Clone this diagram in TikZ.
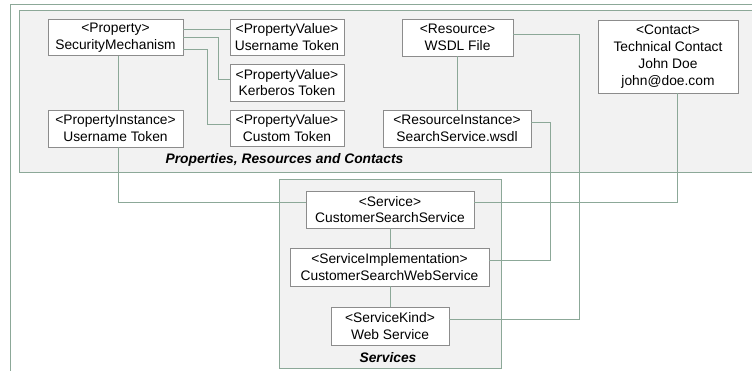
\documentclass[tikz,border=0pt]{standalone}
\usepackage{fontspec}
\setmainfont{Liberation Sans}
\definecolor{conn}{HTML}{8CA898}
\definecolor{panelfill}{HTML}{F2F2F2}
\definecolor{boxline}{HTML}{8C8C8C}
\begin{document}
\begin{tikzpicture}[x=1pt,y=-1pt,
  box/.style={draw=boxline,fill=white,line width=0.9pt,inner sep=0pt,align=center,
    font=\fontsize{13.8}{16.8}\selectfont},
  panel/.style={draw=conn,fill=panelfill,line width=0.9pt},
  link/.style={draw=conn,line width=0.9pt},
  plabel/.style={font=\fontsize{13.8}{16.8}\selectfont\bfseries\itshape,inner sep=0pt}]
\useasboundingbox (0,0) rectangle (752,371);
% frames
\draw[link] (10,371) -- (10,4) -- (752,4);
\path[panel] (19,10) rectangle (760,172);
\path[panel] (279,179) rectangle (501,368);
\node[plabel] (plab) at (284.5,160) {Properties, Resources and Contacts};
\node[plabel] (slab) at (388,358) {Services};
% nodes
\node[box,minimum width=135pt,minimum height=36pt] (prop) at (115.5,37.5) {<Property>\\SecurityMechanism};
\node[box,minimum width=114pt,minimum height=36pt] (pv1) at (287,37) {<PropertyValue>\\Username Token};
\node[box,minimum width=114pt,minimum height=37pt] (pv2) at (287,82.5) {<PropertyValue>\\Kerberos Token};
\node[box,minimum width=114pt,minimum height=36pt] (pv3) at (287,128) {<PropertyValue>\\Custom Token};
\node[box,minimum width=135pt,minimum height=37pt] (pinst) at (115.5,128.5) {<PropertyInstance>\\Username Token};
\node[box,minimum width=111pt,minimum height=37pt] (res) at (457.5,37.5) {<Resource>\\WSDL File};
\node[box,minimum width=148pt,minimum height=37pt] (resinst) at (457,128.5) {<ResourceInstance>\\SearchService.wsdl};
\node[box,minimum width=140pt,minimum height=73pt] (contact) at (668,56.5) {<Contact>\\Technical Contact\\John Doe\\john@doe.com};
\node[box,minimum width=168pt,minimum height=37pt] (svc) at (390,209.5) {<Service>\\CustomerSearchService};
\node[box,minimum width=199pt,minimum height=38pt] (impl) at (389.5,267) {<ServiceImplementation>\\CustomerSearchWebService};
\node[box,minimum width=118pt,minimum height=38pt] (kind) at (390,326) {<ServiceKind>\\Web Service};
% connectors
\draw[link] (prop.east|-0,29) -- (pv1.west|-0,29);
\draw[link] (prop.east|-0,37) -| (218,79) -- (pv2.west|-0,79);
\draw[link] (prop.east|-0,49) -| (207,124) -- (pv3.west|-0,124);
\draw[link] (prop.south-|118,0) -- (pinst.north-|118,0);
\draw[link] (pinst.south-|118,0) |- (svc.west|-0,202);
\draw[link] (contact.south-|677,0) |- (svc.east|-0,202);
\draw[link] (res.south-|457,0) -- (resinst.north-|457,0);
\draw[link] (res.east|-0,34) -| (579,319) -- (kind.east|-0,319);
\draw[link] (resinst.east|-0,122) -| (550,260) -- (impl.east|-0,260);
\draw[link] (svc.south-|390,0) -- (impl.north-|390,0);
\draw[link] (impl.south-|390,0) -- (kind.north-|390,0);
\end{tikzpicture}
\end{document}
